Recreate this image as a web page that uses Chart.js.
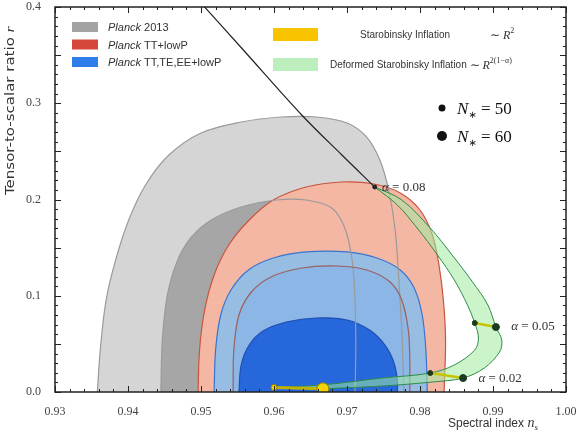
<!DOCTYPE html>
<html>
<head>
<meta charset="utf-8">
<script src="https://cdn.jsdelivr.net/npm/chart.js@4.4.1/dist/chart.umd.min.js"></script>
<style>
  html, body { margin: 0; padding: 0; background: #fff; }
</style>
</head>
<body>
<canvas id="chart" width="576" height="434"></canvas>
<script>
// contours as [n_s, r] pairs
const planck2013Outer = [[0.9358,0],[0.9362,0.0436],[0.9370,0.0956],[0.9383,0.1371],[0.9401,0.1787],[0.9424,0.2151],
  [0.9456,0.2462],[0.9500,0.2691],[0.9555,0.2805],[0.9610,0.2857],[0.9658,0.2857],[0.9700,0.2795],[0.9727,0.2649],
  [0.9745,0.2410],[0.9757,0.2099],[0.9766,0.1683],[0.9771,0.1164],[0.9775,0.0644],[0.9778,0]];
const planck2013Inner = [[0.9445,0],[0.9447,0.054],[0.9454,0.1008],[0.9467,0.1351],[0.9486,0.160],[0.9514,0.1787],
  [0.9555,0.1922],[0.9603,0.1995],[0.9644,0.1995],[0.9679,0.1912],[0.9697,0.1704],[0.9707,0.1371],[0.9711,0.0956],
  [0.9712,0.0436],[0.9711,0]];
const ttOuter = [[0.9496,0],[0.9498,0.0436],[0.9505,0.0852],[0.9518,0.1216],[0.9538,0.1527],[0.9566,0.1787],
  [0.9599,0.1995],[0.9644,0.2130],[0.9693,0.2182],[0.9737,0.2161],[0.9773,0.2068],[0.9800,0.1891],[0.9817,0.1631],
  [0.9826,0.1319],[0.9832,0.0956],[0.9835,0.0540],[0.9833,0]];
const ttInner = [[0.9544,0],[0.9545,0.0436],[0.9552,0.080],[0.9569,0.1039],[0.9596,0.1195],[0.9638,0.1288],
  [0.9686,0.1309],[0.9727,0.1268],[0.9759,0.1143],[0.9775,0.0956],[0.9784,0.0644],[0.9786,0.0332],[0.9786,0]];
const allOuter = [[0.9518,0],[0.9520,0.0436],[0.9527,0.080],[0.9541,0.106],[0.9565,0.1268],[0.9599,0.1392],
  [0.9644,0.1455],[0.9700,0.1455],[0.9741,0.1392],[0.9773,0.1268],[0.9792,0.1081],[0.9803,0.080],[0.9808,0.0436],[0.9810,0]];
const allInner = [[0.9552,0],[0.9555,0.028],[0.9566,0.0488],[0.9585,0.0634],[0.9617,0.0727],[0.9658,0.0769],
  [0.9700,0.0748],[0.9731,0.0644],[0.9752,0.0488],[0.9764,0.0312],[0.9769,0.0125],[0.9769,0]];

// deformed Starobinsky, alpha from 0 to 0.08
const deformedN50 = [[0.9600,0.0048],[0.9665,0.0073],[0.9748,0.0145],[0.9814,0.0197],[0.9847,0.0281],[0.9875,0.0436],
  [0.9880,0.0561],[0.9875,0.0717],[0.9865,0.0904],[0.9847,0.1164],[0.9824,0.1423],[0.9796,0.1704],[0.9769,0.1943],[0.9738,0.2130]];
const deformedN60 = [[0.9667,0.0033],[0.9748,0.0062],[0.9817,0.0104],[0.9859,0.0145],[0.9888,0.0249],[0.9909,0.0416],
  [0.9912,0.0540],[0.9904,0.0675],[0.9893,0.0904],[0.9872,0.1143],[0.9844,0.1423],[0.9814,0.1704],[0.9775,0.1995],[0.9738,0.2130]];
const largeAlpha = [[0.9738,0.2130],[0.9693,0.2462],[0.9638,0.2878],[0.9558,0.3553],[0.9493,0.41]];

const starobinsky = [[0.9600,0.0048],[0.9667,0.0033]];
const alpha002 = [[0.9814,0.0197],[0.9859,0.0145]];
const alpha005 = [[0.9875,0.0717],[0.9904,0.0675]];
const alpha008 = [[0.9738,0.2130]];

const pts = a => a.map(p => ({x: p[0], y: p[1]}));

function region(data, fill, border, order, width) {
  return {
    data: pts(data), showLine: true, fill: fill ? 'shape' : false,
    backgroundColor: fill || 'transparent', borderColor: border || 'transparent',
    borderWidth: width === undefined ? 1 : width, pointRadius: 0, tension: 0.35, order: order
  };
}

function markers(data, line, dot, edge, radii, width, order) {
  return {
    data: pts(data), showLine: true, fill: false, borderColor: line, borderWidth: width,
    pointRadius: radii, pointBackgroundColor: dot, pointBorderColor: edge, pointBorderWidth: 1,
    tension: 0, order: order
  };
}

const datasets = [
  region(planck2013Outer, '#d5d5d5', null, 30, 0),
  region(planck2013Inner, '#a6a6a6', null, 29, 0),
  region(ttOuter, '#f4b7a4', '#c8553f', 28, 1.2),
  region(ttInner, '#b98fb8', '#b4503f', 27, 1.2),
  region(allOuter, 'rgba(130,190,240,0.82)', '#3a74cf', 26, 1.2),
  region(allInner, '#2767dc', '#1f4fb0', 25, 1.2),
  region(planck2013Outer, null, '#9a9a9a', 24, 1.2),
  region(planck2013Inner, null, '#9a9a9a', 23, 1.2),
  region(ttInner, null, 'rgba(160,80,70,0.8)', 22, 1.2),
  region(deformedN60.concat(deformedN50.slice().reverse()), 'rgba(160,235,160,0.55)', '#2f8a4a', 21, 1),
  region(largeAlpha, null, '#222', 20, 1.2),
  markers(starobinsky, '#c2b200', '#f3d400', '#8f8000', [3, 6], 3, 5),
  markers(alpha002, '#c6c400', '#1c3a1c', '#1c3a1c', [2.5, 3.5], 2.5, 4),
  markers(alpha005, '#c6c400', '#1c3a1c', '#1c3a1c', [2.5, 3.5], 2.5, 3),
  markers(alpha008, '#222', '#222', '#222', [2], 1, 2)
];

function drawParts(ctx, parts, x, y) {
  for (const p of parts) {
    ctx.font = p[1];
    ctx.fillText(p[0], x, y + (p[2] || 0));
    x += ctx.measureText(p[0]).width;
  }
  return x;
}

const decor = {
  id: 'decor',
  afterDraw(chart) {
    const {ctx, chartArea: a, scales: {x, y}} = chart;
    ctx.save();
    // inward ticks
    ctx.strokeStyle = '#222';
    ctx.lineWidth = 1;
    ctx.beginPath();
    for (let i = 0; i <= 35; i++) {
      const px = Math.round(x.getPixelForValue(0.93 + i * 0.002)) + 0.5;
      const len = i % 5 === 0 ? 6 : 3;
      ctx.moveTo(px, a.bottom); ctx.lineTo(px, a.bottom - len);
      ctx.moveTo(px, a.top); ctx.lineTo(px, a.top + len);
    }
    for (let i = 0; i <= 40; i++) {
      const py = Math.round(y.getPixelForValue(i * 0.01)) + 0.5;
      const len = i % 5 === 0 ? 6 : 3;
      ctx.moveTo(a.left, py); ctx.lineTo(a.left + len, py);
      ctx.moveTo(a.right, py); ctx.lineTo(a.right - len, py);
    }
    ctx.stroke();
    ctx.lineWidth = 1.5;
    ctx.strokeRect(a.left, a.top, a.right - a.left, a.bottom - a.top);

    ctx.fillStyle = '#333';
    ctx.textBaseline = 'alphabetic';
    // axis titles
    drawParts(ctx, [['Spectral index ', '12px "Liberation Sans"'], ['n', 'italic 14px "Liberation Serif"'], ['s', 'italic 9px "Liberation Serif"', 3]], 448, 427);
    ctx.save();
    ctx.translate(14, 195);
    ctx.rotate(-Math.PI / 2);
    ctx.scale(1.25, 1);
    drawParts(ctx, [['Tensor-to-scalar ratio ', '12px "DejaVu Sans"'], ['r', 'italic 13px "Liberation Serif"']], 0, 0);
    ctx.restore();

    // Planck legend
    const rows = [['#a3a3a3', ' 2013'], ['#d5473b', ' TT+lowP'], ['#2f7de8', ' TT,TE,EE+lowP']];
    rows.forEach((r, i) => {
      const cy = 27 + i * 17.5;
      ctx.fillStyle = r[0];
      ctx.fillRect(72, cy - 5, 26, 10);
      ctx.fillStyle = '#333';
      drawParts(ctx, [['Planck', 'italic 11px "Liberation Sans"'], [r[1], '11px "Liberation Sans"']], 108, cy + 4);
    });

    // model legend
    ctx.fillStyle = '#f8c400';
    ctx.fillRect(273, 28, 45, 13);
    ctx.fillStyle = '#bdeebd';
    ctx.fillRect(273, 58, 45, 13);
    ctx.fillStyle = '#333';
    drawParts(ctx, [['Starobinsky Inflation', '10px "Liberation Sans"']], 360, 38);
    drawParts(ctx, [['\u223C ', '12px "Liberation Serif"'], ['R', 'italic 12px "Liberation Serif"'], ['2', '8px "Liberation Serif"', -6]], 490, 39);
    let xe = drawParts(ctx, [['Deformed Starobinsky Inflation ', '10px "Liberation Sans"']], 330, 68);
    drawParts(ctx, [['\u223C ', '12px "Liberation Serif"'], ['R', 'italic 12px "Liberation Serif"'], ['2(1\u2212', '8px "Liberation Serif"', -6], ['\u03B1', 'italic 8px "Liberation Serif"', -6], [')', '8px "Liberation Serif"', -6]], xe, 69);

    // N legend
    ctx.fillStyle = '#111';
    ctx.beginPath(); ctx.arc(442, 108, 3.5, 0, Math.PI * 2); ctx.fill();
    ctx.beginPath(); ctx.arc(442, 136, 5, 0, Math.PI * 2); ctx.fill();
    [[108, '50'], [136, '60']].forEach(r => {
      drawParts(ctx, [['N', 'italic 17px "Liberation Serif"'], ['\u2217', '10px "DejaVu Sans"', 4], [' = ' + r[1], '17px "Liberation Serif"']], 457, r[0] + 6);
    });

    // alpha labels
    ctx.fillStyle = '#333';
    const lab = (v, px, py) => drawParts(ctx, [['\u03B1', 'italic 13px "Liberation Serif"'], [' = ' + v, '13px "Liberation Serif"']], px, py);
    lab('0.08', x.getPixelForValue(0.9748), y.getPixelForValue(0.2130) + 4);
    lab('0.05', x.getPixelForValue(0.9925), y.getPixelForValue(0.0690) + 4);
    lab('0.02', x.getPixelForValue(0.9880), y.getPixelForValue(0.0145) + 4);
    ctx.restore();
  }
};

new Chart(document.getElementById('chart'), {
  type: 'scatter',
  data: { datasets: datasets },
  options: {
    responsive: false,
    animation: false,
    layout: { padding: { top: 7, right: 10, left: 0, bottom: 0 } },
    plugins: { legend: { display: false }, tooltip: { enabled: false } },
    scales: {
      x: {
        min: 0.93, max: 1.0,
        grid: { display: false }, border: { display: false },
        ticks: { stepSize: 0.01, padding: 5, color: '#444', font: { family: 'Liberation Serif', size: 12 },
          maxRotation: 0, autoSkip: false, callback: v => Number(v).toFixed(2) },
        afterFit: s => { s.height = 42; s.paddingLeft = 0; s.paddingRight = 0; }
      },
      y: {
        min: 0, max: 0.4,
        grid: { display: false }, border: { display: false },
        ticks: { stepSize: 0.1, padding: 6, color: '#444', font: { family: 'Liberation Serif', size: 12 },
          callback: v => Number(v).toFixed(1) },
        afterFit: s => { s.width = 55; s.paddingTop = 0; s.paddingBottom = 0; }
      }
    }
  },
  plugins: [decor]
});
</script>
</body>
</html>
